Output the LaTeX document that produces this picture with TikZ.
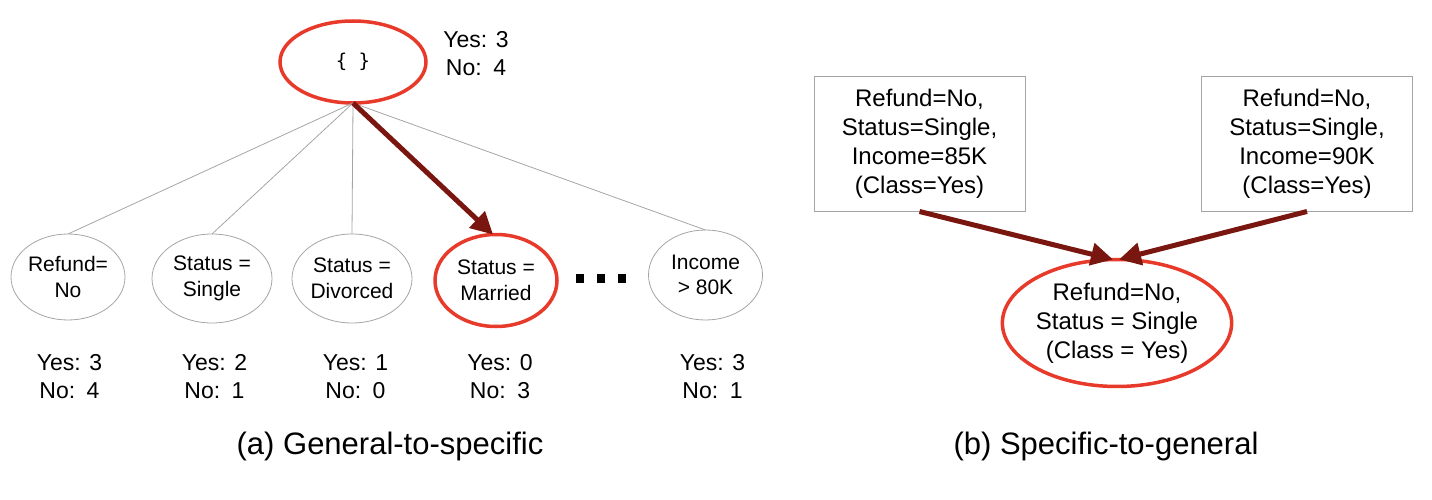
\documentclass[tikz,border=0pt]{standalone}
\usepackage{fontspec}
\setmainfont{Liberation Sans}
\newfontfamily\monofnt{DejaVu Sans Mono}
\usetikzlibrary{shapes.geometric,arrows.meta}
\definecolor{hired}{RGB}{232,58,42}
\definecolor{arrowred}{RGB}{122,22,16}
\definecolor{edgegray}{RGB}{165,165,165}
\begin{document}
\begin{tikzpicture}[x=1pt,y=-1pt,
  every node/.style={inner sep=0pt, outer sep=0pt},
  grayell/.style={ellipse, draw=edgegray, line width=0.8pt, align=center, font=\fontsize{21}{25.5}\selectfont},
  redell/.style={ellipse, draw=hired, line width=3.5pt, align=center},
  countlbl/.style={align=center, font=\fontsize{23}{28}\selectfont},
  thinedge/.style={draw=edgegray, line width=0.8pt},
  bigarrow/.style={draw=arrowred, line width=5pt, -{Triangle[length=22pt,width=22pt]}},
  boxnode/.style={rectangle, draw=edgegray, line width=1pt, minimum width=211pt, minimum height=135pt, align=center, font=\fontsize{24}{29}\selectfont},
  caption/.style={font=\fontsize{31}{36}\selectfont},
  dotsq/.style={rectangle, fill=black, minimum width=8pt, minimum height=9pt}
]
\useasboundingbox (0,0) rectangle (1432,500);

% ---------- (a) General-to-specific ----------
\node[redell, minimum width=146pt, minimum height=82pt] (root) at (353,62) {\monofnt\fontsize{19}{22}\selectfont \{ \}};
\node[countlbl] (rootc) at (476,54) {Yes: 3\\No:\enspace 4};

\node[grayell, minimum width=114pt, minimum height=86pt] (c1) at (68,277) {Refund=\\No};
\node[grayell, minimum width=120pt, minimum height=89pt] (c2) at (212,278.5) {Status =\\Single};
\node[grayell, minimum width=120pt, minimum height=89pt] (c3) at (352,278.5) {Status =\\Divorced};
\node[redell, minimum width=122pt, minimum height=92pt, font=\fontsize{21}{25.5}\selectfont] (c4) at (496,280.5) {Status =\\Married};
\node[grayell, minimum width=114pt, minimum height=90pt] (c5) at (705.5,275) {Income\\> 80K};

\node[dotsq] (d1) at (580,278) {};
\node[dotsq] (d2) at (601,278) {};
\node[dotsq] (d3) at (622,278) {};

\node[countlbl] (n1) at (69.5,377) {Yes: 3\\No:\enspace 4};
\node[countlbl] (n2) at (214.5,377) {Yes: 2\\No:\enspace 1};
\node[countlbl] (n3) at (355.5,377) {Yes: 1\\No:\enspace 0};
\node[countlbl] (n4) at (500,377) {Yes: 0\\No:\enspace 3};
\node[countlbl] (n5) at (712.5,377) {Yes: 3\\No:\enspace 1};

\coordinate (rb) at (root.south);
\draw[thinedge] (rb) -- (c1.north);
\draw[thinedge] (rb) -- (c2.north);
\draw[thinedge] (rb) -- (c3.north);
\draw[thinedge] (rb) -- (c5.north);
\draw[bigarrow] (rb) -- ([xshift=-3pt]c4.north);

\node[caption] (capa) at (390,446) {(a) General-to-specific};

% ---------- (b) Specific-to-general ----------
\node[boxnode] (b1) at (919.5,144) {Refund=No,\\Status=Single,\\Income=85K\\(Class=Yes)};
\node[boxnode] (b2) at (1307,144) {Refund=No,\\Status=Single,\\Income=90K\\(Class=Yes)};
\node[redell, minimum width=222pt, minimum height=127pt, font=\fontsize{24}{29}\selectfont] (gen) at (1117,323) {Refund=No,\\Status = Single\\(Class = Yes)};

\draw[bigarrow] (b1.south) -- ([xshift=-4pt]gen.north);
\draw[bigarrow] (b2.south) -- ([xshift=2pt]gen.north);

\node[caption] (capb) at (1106,446) {(b) Specific-to-general};
\end{tikzpicture}
\end{document}
